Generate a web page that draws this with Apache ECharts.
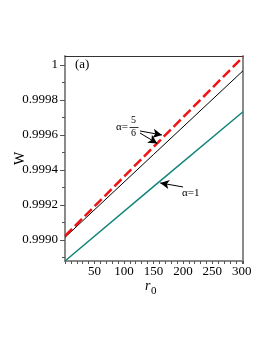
<!DOCTYPE html>
<html><head><meta charset="utf-8">
<script src="https://cdn.jsdelivr.net/npm/echarts@6/dist/echarts.min.js"></script>
<style>html,body{margin:0;padding:0;background:#fff}#c{width:272px;height:352px}</style>
</head><body><div id="c"></div>
<script>
var r0 = [0, 150, 302];
var wAlpha56Dashed = [0.999023, 0.999531, 1.0000457];
var wAlpha56Solid = [0.999015, 0.999488, 0.999967];
var wAlpha1 = [0.99888, 0.999305, 0.999733];
var yTickLabels = [0.999, 0.9992, 0.9994, 0.9996, 0.9998, 1];
var yMinorTicks = [0.9989, 0.9991, 0.9993, 0.9995, 0.9997, 0.9999];
var xTickLabels = [50, 100, 150, 200, 250, 300];

function pairs(xs, ys){ return xs.map(function(x,i){return [x, ys[i]];}); }
var FONT = 'Liberation Serif';
var chart = echarts.init(document.getElementById('c'), null, {renderer:'canvas'});
var YMIN = 0.99888, YMAX = 1.0000514, XMIN = 0, XMAX = 302;
chart.setOption({
  animation: false,
  backgroundColor: '#fff',
  grid: {left: 65, top: 56, right: 29, bottom: 91, containLabel: false, outerBoundsMode: 'none'},
  xAxis: [{
    type: 'value', min: XMIN, max: XMAX, interval: 10, position: 'bottom',
    axisLine: {lineStyle: {color: '#8a8a8a', width: 2}},
    axisTick: {length: 3, lineStyle: {color: '#555', width: 1}},
    axisLabel: {margin: 4, color: '#000', fontFamily: FONT, fontSize: 13,
      formatter: function(v){ return (xTickLabels.indexOf(v) >= 0) ? String(v) : ''; }},
    splitLine: {show: false}
  },{
    type: 'value', min: XMIN, max: XMAX, position: 'top',
    axisLine: {show: true, onZero: false, lineStyle: {color: '#333', width: 1}},
    axisTick: {show: false}, axisLabel: {show: false}, splitLine: {show: false}
  }],
  yAxis: [{
    type: 'value', min: YMIN, max: YMAX, position: 'left',
    name: 'W', nameLocation: 'middle', nameGap: 38, nameRotate: 90, nameMoveOverlap: false,
    nameTextStyle: {fontFamily: FONT, fontSize: 14, color: '#000'},
    axisLine: {show: true, lineStyle: {color: '#8a8a8a', width: 2}},
    axisTick: {show: true, length: 5, customValues: yTickLabels, lineStyle: {color: '#555', width: 1}},
    axisLabel: {margin: 7, color: '#000', fontFamily: FONT, fontSize: 13, customValues: yTickLabels,
      formatter: function(v){ return Math.abs(v-1) < 1e-9 ? '1' : v.toFixed(4); }},
    splitLine: {show: false}
  },{
    type: 'value', min: YMIN, max: YMAX, position: 'left',
    axisLine: {show: false},
    axisTick: {show: true, length: 3, customValues: yMinorTicks, lineStyle: {color: '#555', width: 1}},
    axisLabel: {show: false}, splitLine: {show: false}
  },{
    type: 'value', min: YMIN, max: YMAX, position: 'right',
    axisLine: {show: true, lineStyle: {color: '#8a8a8a', width: 2}},
    axisTick: {show: false}, axisLabel: {show: false}, splitLine: {show: false}
  }],
  series: [{
    type: 'line', data: pairs(r0, wAlpha1), showSymbol: false, silent: true,
    lineStyle: {color: '#13857a', width: 1.5},
    markLine: {silent: true, symbol: ['none','arrow'], symbolSize: [7, 9], label: {show: false},
      lineStyle: {color: '#000', width: 1, type: 'solid'},
      data: [[{coord: [200.3, 0.999303]}, {coord: [161.5, 0.999326]}]]}
  },{
    type: 'line', data: pairs(r0, wAlpha56Solid), showSymbol: false, silent: true,
    lineStyle: {color: '#000', width: 1},
    markLine: {silent: true, symbol: ['none','arrow'], symbolSize: [7, 9], label: {show: false},
      lineStyle: {color: '#000', width: 1, type: 'solid'},
      data: [[{coord: [127.3, 0.999623]}, {coord: [164.5, 0.999600]}],
             [{coord: [127.3, 0.999611]}, {coord: [156.5, 0.999552]}]]}
  },{
    type: 'line', data: pairs(r0, wAlpha56Dashed), showSymbol: false, silent: true,
    lineStyle: {color: '#f01414', width: 2.5, type: [10, 4]}
  }],
  graphic: [
    {type: 'text', left: 75, top: 58, style: {text: '(a)', fontFamily: FONT, fontSize: 13, fill: '#000'}},
    {type: 'text', left: 116, top: 122, style: {text: 'α=', fontFamily: FONT, fontSize: 11, fill: '#000'}},
    {type: 'text', left: 131, top: 115, style: {text: '5', fontFamily: FONT, fontSize: 10, fill: '#000'}},
    {type: 'line', shape: {x1: 129.5, y1: 127.5, x2: 138.5, y2: 127.5}, style: {stroke: '#000', lineWidth: 0.8}},
    {type: 'text', left: 131, top: 128, style: {text: '6', fontFamily: FONT, fontSize: 10, fill: '#000'}},
    {type: 'text', left: 182, top: 188, style: {text: 'α=1', fontFamily: FONT, fontSize: 11, fill: '#000'}},
    {type: 'text', left: 145, top: 279, style: {text: 'r', fontFamily: FONT, fontSize: 14, fontStyle: 'italic', fill: '#000'}},
    {type: 'text', left: 151, top: 286, style: {text: '0', fontFamily: FONT, fontSize: 11, fill: '#000'}}
  ]
});
</script></body></html>
